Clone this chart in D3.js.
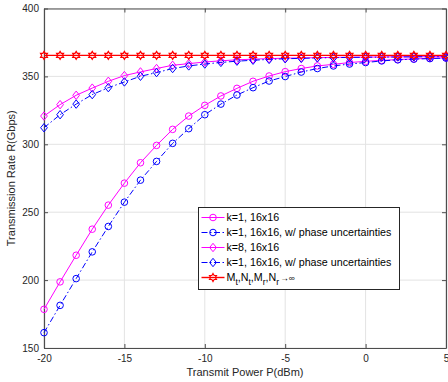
<!DOCTYPE html>
<html>
<head>
<meta charset="utf-8">
<script src="https://cdn.jsdelivr.net/npm/d3@7"></script>
<style>
html,body{margin:0;padding:0;background:#fff;}
svg{display:block;font-family:"Liberation Sans",Arial,sans-serif;}
</style>
</head>
<body>
<svg id="chart" width="448" height="382"></svg>
<script>
const xValues = [-20,-19,-18,-17,-16,-15,-14,-13,-12,-11,-10,-9,-8,-7,-6,-5,-4,-3,-2,-1,0,1,2,3,4,5];
const k1 = [178.5,198.7,218.3,237.5,255.2,271.4,286.4,299.2,311.0,320.8,328.7,335.6,341.2,346.4,350.3,353.5,355.8,357.7,358.9,360.2,361.1,361.8,362.4,362.9,363.3,363.6];
const k1Phase = [161.3,181.4,201.1,220.8,239.5,257.4,273.6,287.4,300.7,311.5,321.8,329.6,336.3,341.7,346.6,349.9,353.2,355.8,357.7,359.1,360.2,361.4,362.2,362.7,363.1,363.5];
const k8 = [320.8,329.2,336.1,341.4,346.4,350.6,353.3,355.8,358.2,359.4,360.6,361.5,362.2,362.7,363.1,363.4,363.6,363.8,364.0,364.1,364.2,364.3,364.4,364.5,364.5,364.6];
const k8Phase = [312.2,321.8,329.6,336.6,341.7,345.9,350.1,352.8,355.8,357.7,359.1,360.3,361.2,361.9,362.5,363.0,363.3,363.6,363.8,364.0,364.1,364.2,364.3,364.4,364.5,364.5];
const limitVal = xValues.map(() => 365.5);
const xTicks = [-20,-15,-10,-5,0,5];
const yTicks = [150,200,250,300,350,400];
const seriesNames = ["k=1, 16x16","k=1, 16x16, w/ phase uncertainties","k=8, 16x16","k=1, 16x16, w/ phase uncertainties","limit"];

const series = [
  {name: seriesNames[0], values: k1, color: "#ff00ff", dash: null, marker: "circle", w: 1},
  {name: seriesNames[1], values: k1Phase, color: "#0000ff", dash: "6,2.5,1.5,2.5", marker: "circle", w: 1},
  {name: seriesNames[2], values: k8, color: "#ff00ff", dash: null, marker: "diamond", w: 1},
  {name: seriesNames[3], values: k8Phase, color: "#0000ff", dash: "6,2.5,1.5,2.5", marker: "diamond", w: 1},
  {name: seriesNames[4], values: limitVal, color: "#ff0000", dash: null, marker: "hexagram", w: 1.4}
];

const svg = d3.select("#chart");
const L = 44, R = 446, T = 8.5, B = 348;
const x = d3.scaleLinear().domain([-20,5]).range([L,R]);
const y = d3.scaleLinear().domain([150,400]).range([B,T]);
const axisColor = "#262626";

// grid
const g = svg.append("g");
g.selectAll(".gx").data(xTicks).enter().append("line")
  .attr("x1", d=>x(d)).attr("x2", d=>x(d)).attr("y1", T).attr("y2", B)
  .attr("stroke", "#e3e3e3").attr("stroke-width", 1);
g.selectAll(".gy").data(yTicks).enter().append("line")
  .attr("x1", L).attr("x2", R).attr("y1", d=>y(d)).attr("y2", d=>y(d))
  .attr("stroke", "#e3e3e3").attr("stroke-width", 1);

// axes
const fmt = d => String(d);
const xAxis = d3.axisBottom(x).tickValues(xTicks).tickFormat(fmt).tickSizeInner(-4).tickSizeOuter(0).tickPadding(7);
const yAxis = d3.axisLeft(y).tickValues(yTicks).tickFormat(fmt).tickSizeInner(-4).tickSizeOuter(0).tickPadding(5);
const xg = svg.append("g").attr("transform", `translate(0,${B})`).call(xAxis);
const yg = svg.append("g").attr("transform", `translate(${L},0)`).call(yAxis);
const xTop = d3.axisTop(x).tickValues(xTicks).tickSizeInner(-4).tickSizeOuter(0).tickFormat("");
const yRight = d3.axisRight(y).tickValues(yTicks).tickSizeInner(-4).tickSizeOuter(0).tickFormat("");
const xtg = svg.append("g").attr("transform", `translate(0,${T})`).call(xTop);
const yrg = svg.append("g").attr("transform", `translate(${R},0)`).call(yRight);
[xg,yg,xtg,yrg].forEach(a => {
  a.selectAll("path.domain").attr("stroke", "#4d4d4d").attr("stroke-width", 1.2);
  a.selectAll(".tick line").attr("stroke", "#4d4d4d");
  a.selectAll("text").attr("fill", axisColor).attr("font-size", 10).attr("font-family", "Liberation Sans, Arial, sans-serif");
});

// labels
svg.append("text").attr("x", (L+R)/2).attr("y", 376).attr("text-anchor", "middle")
  .attr("font-size", 11).attr("fill", axisColor).text("Transmit Power P(dBm)");
svg.append("text").attr("transform", `translate(15,${(T+B)/2}) rotate(-90)`).attr("text-anchor", "middle")
  .attr("font-size", 11).attr("fill", axisColor).text("Transmission Rate R(Gbps)");

function drawMarker(sel, type, color, cx, cy) {
  if (type === "circle") {
    sel.append("circle").attr("cx", cx).attr("cy", cy).attr("r", 3.3)
      .attr("fill", "none").attr("stroke", color).attr("stroke-width", 1);
  } else if (type === "diamond") {
    const s = 4.2;
    sel.append("path").attr("d", `M${cx},${cy-s}L${cx+s*0.8},${cy}L${cx},${cy+s}L${cx-s*0.8},${cy}Z`)
      .attr("fill", "none").attr("stroke", color).attr("stroke-width", 1);
  } else {
    const ro = 4, ri = 2.3;
    let pts = [];
    for (let i = 0; i < 12; i++) {
      const a = -Math.PI/2 + i*Math.PI/6;
      const r = i%2===0 ? ro : ri;
      pts.push([cx + r*Math.cos(a), cy + r*Math.sin(a)]);
    }
    sel.append("path").attr("d", "M" + pts.map(p=>p.join(",")).join("L") + "Z")
      .attr("fill", "none").attr("stroke", color).attr("stroke-width", 1.2);
  }
}

const plot = svg.append("g");
const line = d3.line().x((d,i)=>x(xValues[i])).y(d=>y(d));
series.forEach(s => {
  const sg = plot.append("g");
  sg.append("path").datum(s.values).attr("d", line)
    .attr("fill", "none").attr("stroke", s.color).attr("stroke-width", s.w)
    .attr("stroke-dasharray", s.dash);
  s.values.forEach((v,i) => drawMarker(sg, s.marker, s.color, x(xValues[i]), y(v)));
});

// legend
const lx = 198.5, ly = 207.5, lw = 201, lh = 82;
const lg = svg.append("g");
lg.append("rect").attr("x", lx).attr("y", ly).attr("width", lw).attr("height", lh)
  .attr("fill", "#fff").attr("stroke", axisColor).attr("stroke-width", 1);
const legFont = 10.7;
series.forEach((s,i) => {
  const yy = ly + 10 + i*15;
  lg.append("line").attr("x1", lx+3).attr("x2", lx+26).attr("y1", yy).attr("y2", yy)
    .attr("stroke", s.color).attr("stroke-width", s.w).attr("stroke-dasharray", s.dash);
  drawMarker(lg, s.marker, s.color, lx+14.5, yy);
  const t = lg.append("text").attr("x", lx+28).attr("y", yy+3.8).attr("font-size", legFont).attr("fill", "#000");
  if (i < 4) {
    t.text(s.name);
  } else {
    const parts = [["M",""],["t","sub"],[",",""],["N",""],["t","sub"],[",",""],["M",""],["r","sub"],[",",""],["N",""],["r","sub"]];
    let cur = 0;
    parts.forEach(([txt,kind]) => {
      const ts = t.append("tspan").text(txt);
      if (kind === "sub") { ts.attr("font-size", 8.5).attr("dy", 4 - cur); cur = 4; }
      else { ts.attr("dy", 0 - cur); cur = 0; }
    });
    t.append("tspan").attr("dy", -4).attr("font-size", 8.5).attr("dx", 1).text("\u2192\u221e");
  }
});
</script>
</body>
</html>
